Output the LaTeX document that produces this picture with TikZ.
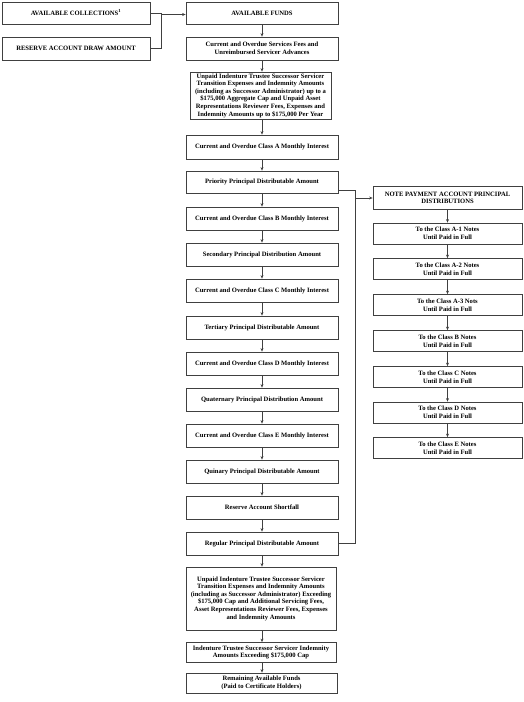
\documentclass[tikz,border=0pt]{standalone}
\usepackage{fontspec}
\setmainfont{Liberation Serif}
\usetikzlibrary{arrows.meta,calc}
\begin{document}
\begin{tikzpicture}[x=1pt,y=-1pt,
 bx/.style={draw=black!75,line width=0.8pt,align=center,inner sep=0.5pt,font=\fontsize{6.6}{7.6}\selectfont\bfseries},
 lbx/.style={bx,minimum width=152},
 rbx/.style={bx,minimum width=149,minimum height=21},
 arr/.style={draw=black!75,line width=0.6pt,-{Stealth[length=3.5pt,width=3pt]}},
 ln/.style={draw=black!75,line width=0.6pt}]
\useasboundingbox (0,0) rectangle (524,702);
% top left
\node[bx,minimum width=148,minimum height=22] (AC) at (76,13) {AVAILABLE COLLECTIONS\textsuperscript{1}};
\node[bx,minimum width=148,minimum height=23] (RA) at (76,48.5) {RESERVE ACCOUNT DRAW AMOUNT};
% left column
\node[lbx,minimum height=22] (AF) at (262,13) {AVAILABLE FUNDS};
\node[lbx,minimum height=23] (SV) at (262,48.5) {Current and Overdue Services Fees and\\Unreimbursed Servicer Advances};
\node[bx,minimum width=141,minimum height=47] (U1) at (260.5,95.5) {Unpaid Indenture Trustee Successor Servicer\\Transition Expenses and Indemnity Amounts\\(including as Successor Administrator) up to a\\\$175,000 Aggregate Cap and Unpaid Asset\\Representations Reviewer Fees, Expenses and\\Indemnity Amounts up to \$175,000 Per Year};
\node[lbx,minimum height=24] (CA) at (262,147) {Current and Overdue Class A Monthly Interest};
\node[lbx,minimum height=22] (PR) at (262,182) {Priority Principal Distributable Amount};
\node[lbx,minimum height=23] (CB) at (262,218.5) {Current and Overdue Class B Monthly Interest};
\node[lbx,minimum height=23] (SE) at (262,254.5) {Secondary Principal Distribution Amount};
\node[lbx,minimum height=23] (CC) at (262,290.5) {Current and Overdue Class C Monthly Interest};
\node[lbx,minimum height=23] (TE) at (262,327.5) {Tertiary Principal Distributable Amount};
\node[lbx,minimum height=23] (CD) at (262,363.5) {Current and Overdue Class D Monthly Interest};
\node[lbx,minimum height=23] (QU) at (262,399.5) {Quaternary Principal Distribution Amount};
\node[lbx,minimum height=23] (CE) at (262,435.5) {Current and Overdue Class E Monthly Interest};
\node[lbx,minimum height=23] (QI) at (262,471.5) {Quinary Principal Distributable Amount};
\node[lbx,minimum height=23] (RS) at (262,507.5) {Reserve Account Shortfall};
\node[lbx,minimum height=23] (RG) at (262,543.5) {Regular Principal Distributable Amount};
\node[bx,minimum width=150,minimum height=63] (U2) at (261,598.5) {Unpaid Indenture Trustee Successor Servicer\\Transition Expenses and Indemnity Amounts\\(including as Successor Administrator) Exceeding\\\$175,000 Cap and Additional Servicing Fees,\\Asset Representations Reviewer Fees, Expenses\\and Indemnity Amounts};
\node[bx,minimum width=150,minimum height=20] (IT) at (261,652.5) {Indenture Trustee Successor Servicer Indemnity\\Amounts Exceeding \$175,000 Cap};
\node[bx,minimum width=151,minimum height=20] (RM) at (261.5,683) {Remaining Available Funds\\(Paid to Certificate Holders)};
% right column
\node[rbx,minimum height=23] (NP) at (447.5,198) {NOTE PAYMENT ACCOUNT PRINCIPAL\\DISTRIBUTIONS};
\node[rbx] (A1) at (447.5,233.5) {To the Class A-1 Notes\\Until Paid in Full};
\node[rbx] (A2) at (447.5,269) {To the Class A-2 Notes\\Until Paid in Full};
\node[rbx] (A3) at (447.5,305) {To the Class A-3 Nots\\Until Paid in Full};
\node[rbx] (NB) at (447.5,341) {To the Class B Notes\\Until Paid in Full};
\node[rbx] (NC) at (447.5,377) {To the Class C Notes\\Until Paid in Full};
\node[rbx] (ND) at (447.5,412.5) {To the Class D Notes\\Until Paid in Full};
\node[rbx] (NE) at (447.5,448) {To the Class E Notes\\Until Paid in Full};
% top connectors
\draw[ln] (AC.east) -- ++(11,0) coordinate (j) -- (j |- RA.east) -- (RA.east);
\draw[arr] ([yshift=-1.5pt]j |- AF.west) -- ([yshift=-1.5pt]AF.west);
% left chain
\foreach \a/\b in {AF/SV,SV/U1,U1/CA,CA/PR,PR/CB,CB/SE,SE/CC,CC/TE,TE/CD,CD/QU,QU/CE,CE/QI,QI/RS,RS/RG,RG/U2,U2/IT,IT/RM}
  \draw[arr] (\a.south -| SV.south) -- (\b.north -| SV.south);
% right chain
\foreach \a/\b in {NP/A1,A1/A2,A2/A3,A3/NB,NB/NC,NC/ND,ND/NE}
  \draw[arr] (\a.south) -- (\b.north);
% principal connectors
\draw[ln] ([yshift=-8pt]PR.east) -- ++(17,0) coordinate (v) -- (v |- RG.east) -- (RG.east);
\draw[arr] (v |- NP.west) -- (NP.west);
\end{tikzpicture}
\end{document}
